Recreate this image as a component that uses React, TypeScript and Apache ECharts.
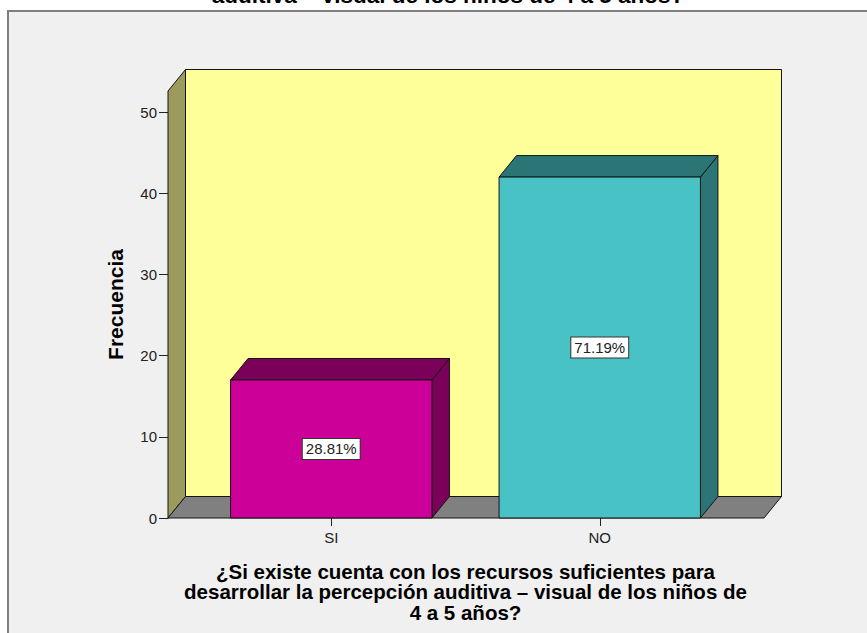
import React, { useEffect, useRef } from "react";
import * as echarts from "echarts";

const categories = ["SI", "NO"];
const counts = [17, 42];
const yTickValues = [0, 10, 20, 30, 40, 50];
const yMax = 52.6;
const frontColors = ["#cc0099", "#48c2c5"];
const shadeColors = ["#7a0059", "#2b7576"];
const topTitleTail = "auditiva – visual de los niños de 4 a 5 años?";
const xTitle =
  "¿Si existe cuenta con los recursos suficientes para\ndesarrollar la percepción auditiva – visual de los niños de\n4 a 5 años?";
const yTitle = "Frecuencia";

const PAD_L = 29;
const PAD_R = 30;
const DEPTH_X = 17.5;
const DEPTH_Y = 21.5;
const BAR_RATIO = 0.75;
const EDGE = "#151515";

export default function App() {
  const ref = useRef<HTMLDivElement>(null);
  useEffect(() => {
    if (!ref.current) return;
    const chart = echarts.init(ref.current, null, { renderer: "svg" });
    const total = counts.reduce((a, b) => a + b, 0);
    chart.setOption({
      animation: false,
      backgroundColor: "#ffffff",
      graphic: [
        {
          type: "rect",
          z: -10,
          silent: true,
          shape: { x: 8, y: 11, width: 900, height: 700 },
          style: { fill: "#f0f0f0", stroke: "#7f7f7f", lineWidth: 2 },
        },
        {
          type: "text",
          z: -5,
          x: 448,
          y: 7,
          style: {
            text: topTitleTail,
            font: "bold 22.5px Arial",
            fill: "#000",
            align: "center",
            verticalAlign: "bottom",
          },
        },
      ],
      grid: { left: 197, right: 133, top: 91, bottom: 115 },
      xAxis: {
        type: "category",
        data: categories,
        axisLine: { show: false },
        axisTick: {
          show: true,
          alignWithLabel: true,
          length: 8,
          lineStyle: { color: "#222", width: 1 },
        },
        axisLabel: { fontSize: 15, fontFamily: "Arial", color: "#222", margin: 12 },
        splitLine: { show: false },
        name: xTitle,
        nameLocation: "middle",
        nameGap: 43,
        nameTextStyle: {
          fontSize: 20.5,
          fontWeight: "bold",
          fontFamily: "Arial",
          color: "#000",
          lineHeight: 20.5,
          align: "center",
        },
      },
      yAxis: {
        type: "value",
        min: 0,
        max: yMax,
        interval: 10,
        offset: PAD_L,
        axisLine: { show: true, lineStyle: { color: EDGE, width: 1 } },
        axisTick: {
          show: true,
          length: 9,
          customValues: yTickValues,
          lineStyle: { color: "#222", width: 1 },
        },
        axisLabel: {
          fontSize: 15,
          fontFamily: "Arial",
          color: "#222",
          margin: 11,
          customValues: yTickValues,
        },
        splitLine: { show: false },
        name: yTitle,
        nameLocation: "middle",
        nameGap: 42,
        nameTextStyle: {
          fontSize: 21,
          fontWeight: "bold",
          fontFamily: "Arial",
          color: "#000",
        },
      },
      series: [
        {
          type: "custom",
          name: "walls",
          coordinateSystem: "cartesian2d",
          silent: true,
          clip: false,
          z: 1,
          data: [[0, 0]],
          renderItem: (params: any) => {
            const cs = params.coordSys;
            const xl = cs.x - PAD_L;
            const xr = cs.x + cs.width + PAD_R;
            const yt = cs.y;
            const yb = cs.y + cs.height;
            const stroke = { stroke: EDGE, lineWidth: 1 };
            return {
              type: "group",
              children: [
                {
                  type: "polygon",
                  shape: {
                    points: [
                      [xl, yb],
                      [xl, yt],
                      [xl + DEPTH_X, yt - DEPTH_Y],
                      [xl + DEPTH_X, yb - DEPTH_Y],
                    ],
                  },
                  style: { fill: "#9c9a5c", ...stroke },
                },
                {
                  type: "rect",
                  shape: {
                    x: xl + DEPTH_X,
                    y: yt - DEPTH_Y,
                    width: xr - xl,
                    height: yb - yt,
                  },
                  style: { fill: "#ffff99", ...stroke },
                },
                {
                  type: "polygon",
                  shape: {
                    points: [
                      [xl, yb],
                      [xl + DEPTH_X, yb - DEPTH_Y],
                      [xr + DEPTH_X, yb - DEPTH_Y],
                      [xr, yb],
                    ],
                  },
                  style: { fill: "#808080", ...stroke },
                },
              ],
            };
          },
        },
        {
          type: "custom",
          name: "Frecuencia",
          coordinateSystem: "cartesian2d",
          clip: false,
          z: 3,
          data: counts.map((v, i) => [i, v]),
          renderItem: (params: any, api: any) => {
            const idx = api.value(0);
            const val = api.value(1);
            const top = api.coord([idx, val]);
            const base = api.coord([idx, 0]);
            const band = api.size([1, 0])[0];
            const w = band * BAR_RATIO;
            const x0 = top[0] - w / 2;
            const x1 = top[0] + w / 2;
            const yt = top[1];
            const yb = base[1];
            const stroke = { stroke: EDGE, lineWidth: 1 };
            const pct = ((val / total) * 100).toFixed(2) + "%";
            return {
              type: "group",
              children: [
                {
                  type: "polygon",
                  shape: {
                    points: [
                      [x1, yt],
                      [x1 + DEPTH_X, yt - DEPTH_Y],
                      [x1 + DEPTH_X, yb - DEPTH_Y],
                      [x1, yb],
                    ],
                  },
                  style: { fill: shadeColors[idx], ...stroke },
                },
                {
                  type: "polygon",
                  shape: {
                    points: [
                      [x0, yt],
                      [x0 + DEPTH_X, yt - DEPTH_Y],
                      [x1 + DEPTH_X, yt - DEPTH_Y],
                      [x1, yt],
                    ],
                  },
                  style: { fill: shadeColors[idx], ...stroke },
                },
                {
                  type: "rect",
                  shape: { x: x0, y: yt, width: w, height: yb - yt },
                  style: { fill: frontColors[idx], ...stroke },
                },
                {
                  type: "text",
                  x: top[0],
                  y: (yt + yb) / 2,
                  style: {
                    text: pct,
                    fill: "#222",
                    fontSize: 15,
                    fontFamily: "Arial",
                    align: "center",
                    verticalAlign: "middle",
                    backgroundColor: "#ffffff",
                    borderColor: "#333",
                    borderWidth: 1,
                    padding: [3, 3, 2, 3],
                  },
                },
              ],
            };
          },
        },
      ],
    });
    return () => chart.dispose();
  }, []);
  return (
    <div
      ref={ref}
      style={{ position: "absolute", left: 0, top: 0, width: 867, height: 633 }}
    />
  );
}
